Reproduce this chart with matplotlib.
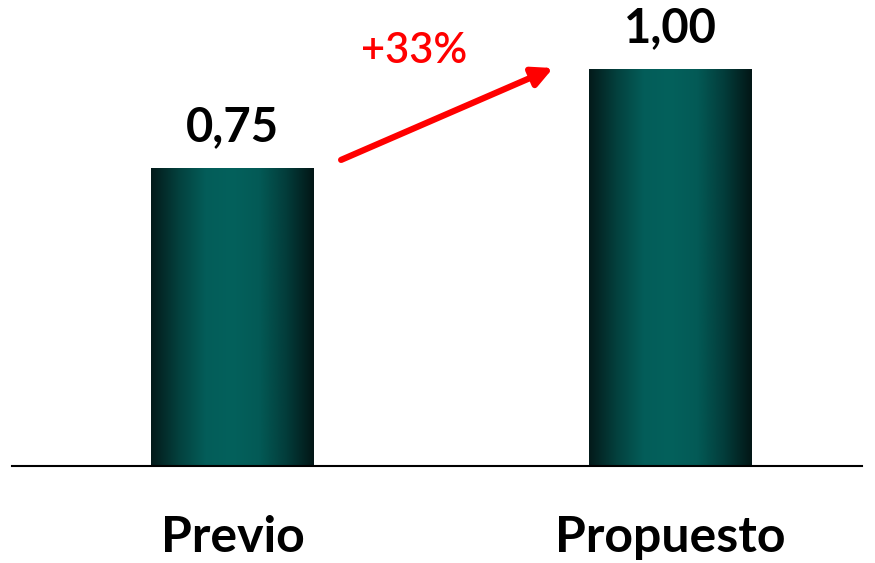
import numpy as np
import matplotlib.pyplot as plt
from matplotlib.colors import LinearSegmentedColormap

# --- données ---
categories = ["Previo", "Propuesto"]
values = [0.75, 1.00]

plt.rcParams['font.family'] = ['Lato', 'DejaVu Sans']

fig = plt.figure(figsize=(8.75, 5.63), dpi=100)
ax = fig.add_axes([12 / 875, 97 / 563, 850 / 875, 466 / 563])

x = np.arange(len(categories))
width = 0.372

# dégradé horizontal sombre -> sarcelle -> sombre
cmap = LinearSegmentedColormap.from_list(
    "teal", ["#031a1a", "#04403d", "#035d59", "#04615c", "#035a56", "#033c3a", "#021616"])
grad = np.linspace(0, 1, 256).reshape(1, -1)

bars = ax.bar(x, values, width=width, color="none", edgecolor="none")
for b in bars:
    x0, y0 = b.get_x(), b.get_y()
    ax.imshow(grad, cmap=cmap, aspect="auto", interpolation="bicubic",
              extent=[x0, x0 + b.get_width(), y0, y0 + b.get_height()], zorder=2)

# étiquettes de valeur
for xi, v in zip(x, values):
    ax.annotate(f"{v:.2f}".replace(".", ","), (xi, v), xytext=(0, 14),
                textcoords="offset points", ha="center", va="bottom",
                fontsize=34, fontweight="bold", color="black")

# flèche de variation
pct = (values[1] / values[0] - 1) * 100
ax.annotate("", xy=(0.732, 1.005), xytext=(0.248, 0.773),
            arrowprops=dict(arrowstyle="-|>,head_length=1.2,head_width=0.6",
                            color="#ff0000", lw=4.5, shrinkA=0, shrinkB=0))
ax.text(0.414, 1.048, f"+{pct:.0f}%", ha="center", va="center",
        fontsize=30, fontweight="semibold", color="#ff0000")

ax.set_xlim(-0.5034, 1.4372)
ax.set_ylim(0, 466 / 396)
ax.set_xticks(x)
ax.set_xticklabels(categories, fontsize=36, fontweight="bold")
ax.tick_params(axis="x", length=0, pad=35)
ax.set_yticks([])
for s in ["top", "right", "left"]:
    ax.spines[s].set_visible(False)
ax.spines["bottom"].set_linewidth(1.5)
ax.patch.set_alpha(0)

fig.savefig("out.png", dpi=100)
